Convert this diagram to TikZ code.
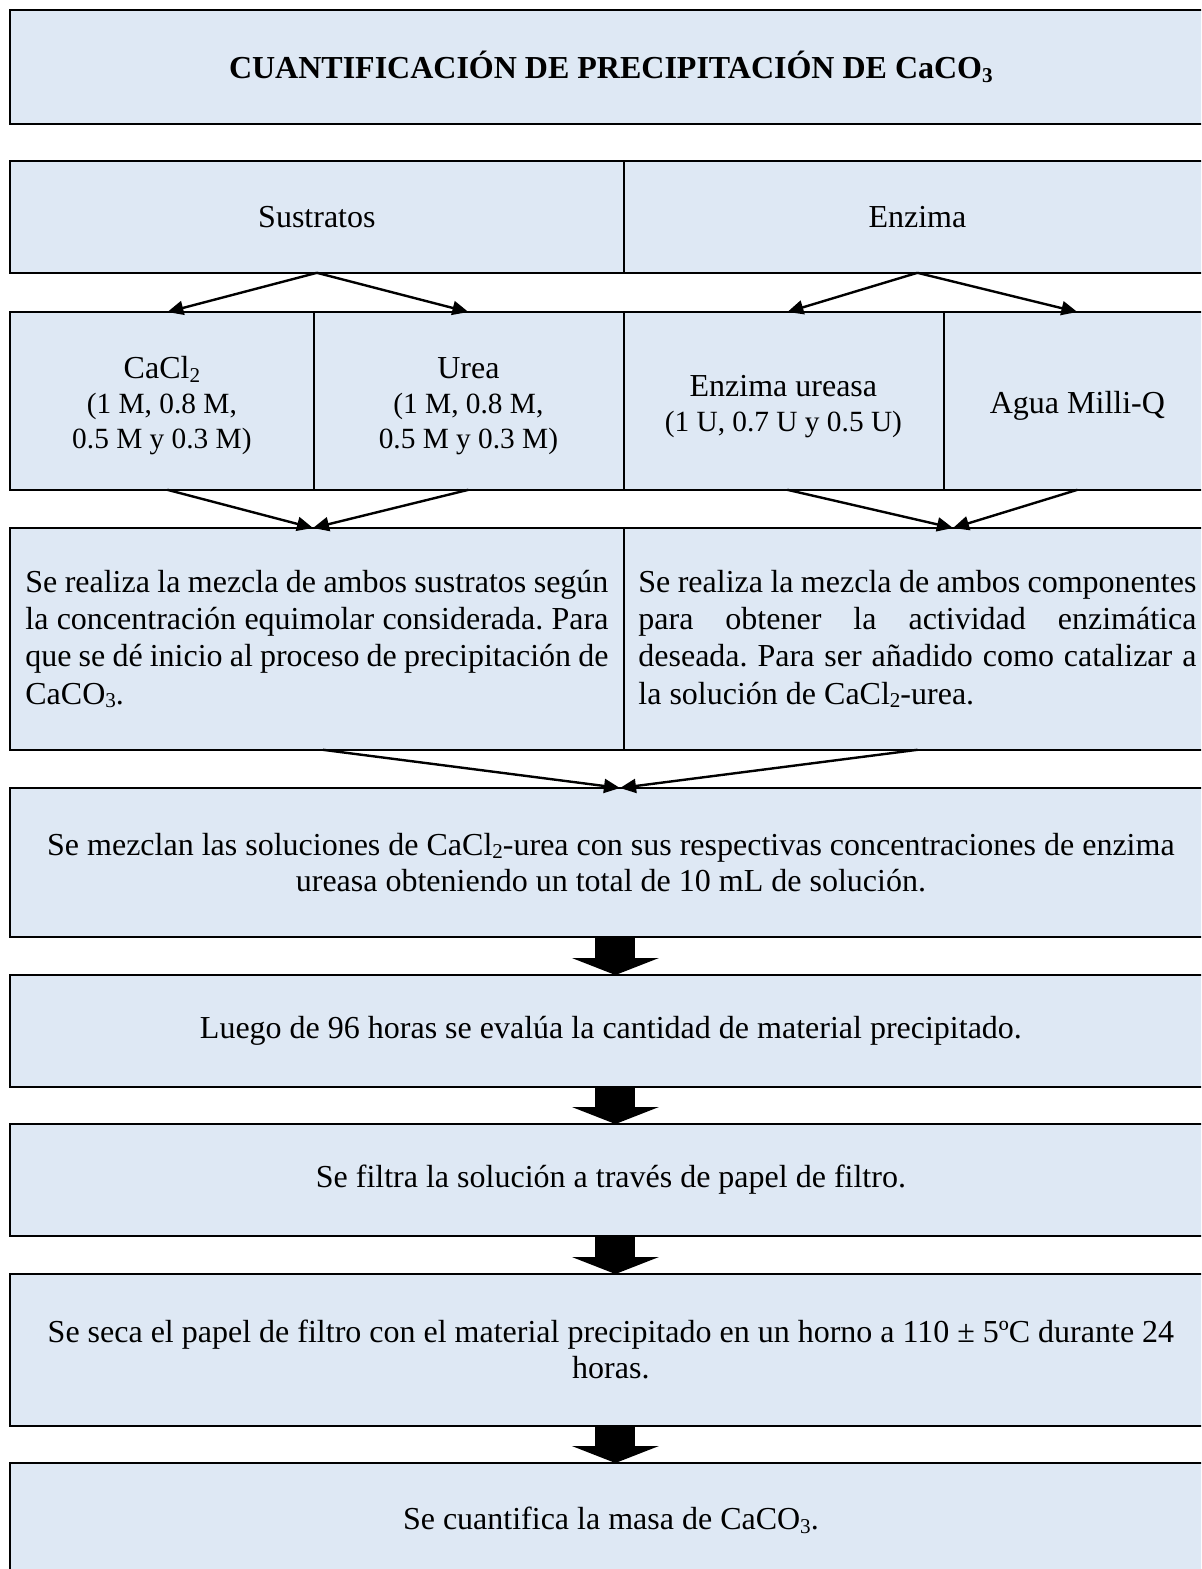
\documentclass[tikz,border=0pt]{standalone}
\usepackage{fontspec}
\setmainfont{Liberation Serif}
\usetikzlibrary{arrows.meta}
\definecolor{boxblue}{HTML}{DEE8F4}
\frenchspacing
% Word-style chemical subscript
\newcommand\chemsub[1]{\raisebox{-0.25ex}{\scalebox{0.66}{#1}}}
% a line stretched to full width at its interword spaces
\newcommand\fullline[2]{\makebox[#1][s]{#2}}
% concentrations are set a little smaller
\newcommand\conc[1]{{\fontsize{14.67pt}{17.5pt}\selectfont #1}}
% small extra space above the text of a component cell
\newcommand\topgap{\mbox{}\\[-1.5pt]}

\begin{document}
\begin{tikzpicture}[x=0.5pt,y=-0.5pt,
  cell/.style={fill=boxblue, inner sep=0pt, anchor=north west, align=center,
               font=\fontsize{16pt}{18pt}\selectfont,
               execute at begin node={\spaceskip=0pt\xspaceskip=0pt}},
  item/.style={cell, font=\fontsize{16pt}{17.5pt}\selectfont},
  para/.style={cell, align=left, font=\fontsize{16pt}{18.65pt}\selectfont},
  frame/.style={line width=1.3pt},
  divider/.style={line width=0.7pt},
  conn/.style={line width=1.2pt, -{Triangle[length=8pt,width=7pt]}},
  bigarrow/.style={line width=20pt, -{Triangle[length=8.5pt,width=43.5pt,line width=0pt]}}
]
\useasboundingbox (0,0) rectangle (1201,1569);
\clip (0,0) rectangle (1201,1569);

% title
\node[cell, minimum width=600.5pt, minimum height=56.5pt, font=\fontsize{16pt}{18pt}\selectfont\bfseries]
  (title) at (10,10) {CUANTIFICACIÓN DE PRECIPITACIÓN DE CaCO\chemsub{3}};

% components
\node[cell, minimum width=306.5pt, minimum height=55.5pt] (s1) at (10,161) {Sustratos};
\node[cell, minimum width=294pt, minimum height=55.5pt] (s2) at (623,161) {Enzima};

\node[item, minimum width=151.5pt, minimum height=88.5pt] (c1) at (10,312)
  {\topgap CaCl\chemsub{2}\\\conc{(1 M, 0.8 M,}\\\conc{0.5 M y 0.3 M)}};
\node[item, minimum width=155pt, minimum height=88.5pt] (c2) at (313,312)
  {\topgap Urea\\\conc{(1 M, 0.8 M,}\\\conc{0.5 M y 0.3 M)}};
\node[item, minimum width=160pt, minimum height=88.5pt] (c3) at (623,312)
  {\topgap Enzima ureasa\\\conc{(1 U, 0.7 U y 0.5 U)}};
\node[item, minimum width=134pt, minimum height=88.5pt] (c4) at (943,312)
  {\topgap Agua Milli-Q};

% mixtures
\node[para, minimum width=306.5pt, minimum height=110.5pt, text width=291.5pt] (m1) at (10,528)
  {\fullline{291.5pt}{Se realiza la mezcla de ambos sustratos según}\\
   \fullline{291.5pt}{la concentración equimolar considerada. Para}\\
   \fullline{291.5pt}{que se dé inicio al proceso de precipitación de}\\
   CaCO\chemsub{3}.};
\node[para, minimum width=294pt, minimum height=110.5pt, text width=279pt] (m2) at (623,528)
  {\fullline{279pt}{Se realiza la mezcla de ambos componentes}\\
   \fullline{279pt}{para obtener la actividad enzimática}\\
   \fullline{279pt}{deseada. Para ser añadido como catalizar a}\\
   la solución de CaCl\chemsub{2}-urea.};

% procedure steps
\node[cell, minimum width=600.5pt, minimum height=74pt] (r5) at (10,788)
  {Se mezclan las soluciones de CaCl\chemsub{2}-urea con sus respectivas concentraciones de enzima\\
   ureasa obteniendo un total de 10 mL de solución.};
\node[cell, minimum width=600.5pt, minimum height=55.5pt] (r6) at (10,975)
  {Luego de 96 horas se evalúa la cantidad de material precipitado.};
\node[cell, minimum width=600.5pt, minimum height=55.5pt] (r7) at (10,1124)
  {Se filtra la solución a través de papel de filtro.};
\node[cell, minimum width=600.5pt, minimum height=75.5pt] (r8) at (10,1274)
  {Se seca el papel de filtro con el material precipitado en un horno a 110 ± 5ºC durante 24\\
   horas.};
\node[cell, minimum width=600.5pt, minimum height=57pt] (r9) at (10,1463)
  {Se cuantifica la masa de CaCO\chemsub{3}.};

% frames and dividers
\draw[frame] (title.north west) rectangle (title.south east);
\draw[frame] (s1.north west) rectangle (s2.south east);
\draw[divider] (s1.north east) -- (s1.south east);
\draw[frame] (c1.north west) rectangle (c4.south east);
\draw[divider] (c1.north east) -- (c1.south east);
\draw[divider] (c2.north east) -- (c2.south east);
\draw[divider] (c3.north east) -- (c3.south east);
\draw[frame] (m1.north west) rectangle (m2.south east);
\draw[divider] (m1.north east) -- (m1.south east);
\foreach \n in {r5,r6,r7,r8,r9}
  \draw[frame] (\n.north west) rectangle (\n.south east);

% meeting points of the converging arrows
\coordinate (j1) at (313,528);
\coordinate (j2) at (953,528);
\coordinate (j3) at (620,788);

% split arrows
\draw[conn] (s1.south) -- ([xshift=2.75pt]c1.north);
\draw[conn] (s1.south) -- (c2.north);
\draw[conn] (s2.south) -- ([xshift=2pt]c3.north);
\draw[conn] (s2.south) -- (c4.north);

% merge arrows
\draw[conn] ([xshift=2.75pt]c1.south) -- (j1);
\draw[conn] (c2.south) -- (j1);
\draw[conn] ([xshift=2pt]c3.south) -- (j2);
\draw[conn] (c4.south) -- (j2);
\draw[conn] ([xshift=3pt]m1.south) -- (j3);
\draw[conn] (m2.south) -- (j3);

% block arrows between steps
\draw[bigarrow] ([xshift=2.25pt]r5.south) -- ([xshift=2.25pt]r6.north);
\draw[bigarrow] ([xshift=2.25pt]r6.south) -- ([xshift=2.25pt]r7.north);
\draw[bigarrow] ([xshift=2.25pt]r7.south) -- ([xshift=2.25pt]r8.north);
\draw[bigarrow] ([xshift=2.25pt]r8.south) -- ([xshift=2.25pt]r9.north);
\end{tikzpicture}
\end{document}
